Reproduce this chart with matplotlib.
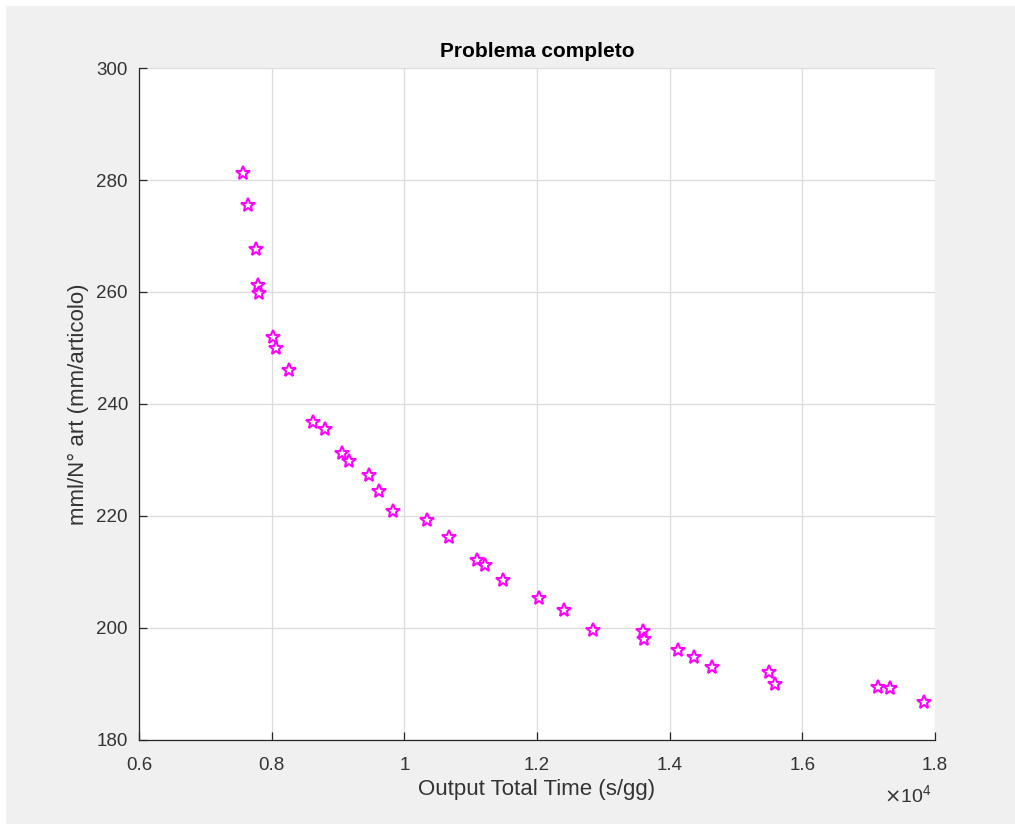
import matplotlib
matplotlib.use("Agg")
import matplotlib.pyplot as plt
from matplotlib.patches import Rectangle
from matplotlib.ticker import FuncFormatter

plt.rcParams['font.family'] = ['Liberation Sans', 'DejaVu Sans']

# dati
tempo = [7563, 7649, 7765, 7799, 7815, 8025, 8065, 8266,
         8628, 8804, 9056, 9166, 9472, 9623, 9825, 10338, 10679,
         11101, 11222, 11493, 12032, 12413, 12842, 13596, 13616,
         14133, 14360, 14636, 15505, 15591, 17136, 17315, 17828]
mml_art = [281.3, 275.5, 267.7, 261.25, 259.9, 252.0, 250.0, 246.1,
           236.7, 235.5, 231.2, 229.8, 227.4, 224.5, 220.95, 219.2, 216.3,
           212.1, 211.2, 208.6, 205.4, 203.3, 199.6, 199.5, 198.0,
           196.1, 194.9, 193.0, 192.1, 189.95, 189.5, 189.2, 186.8]

x_ticks = [6000, 8000, 10000, 12000, 14000, 16000, 18000]
y_ticks = [180, 200, 220, 240, 260, 280, 300]

W, H = 1015, 824
fig = plt.figure(figsize=(W / 100, H / 100), dpi=100, facecolor='white')
# sfondo grigio stile MATLAB
fig.patches.append(Rectangle((6 / W, 0), 1 - 6 / W, 1 - 6 / H, transform=fig.transFigure,
                             facecolor='#f0f0f0', edgecolor='none', zorder=-1))

ax = fig.add_axes([139 / W, 1 - 740 / H, (935 - 139) / W, (740 - 68) / H])
ax.set_facecolor('white')

ax.plot(tempo, mml_art, linestyle='none', marker='*', markersize=10,
        markerfacecolor='none', markeredgecolor='#ff00ff', markeredgewidth=1.5,
        clip_on=False, zorder=3)

ax.set_xlim(6000, 18000)
ax.set_ylim(180, 300)
ax.set_xticks(x_ticks)
ax.set_yticks(y_ticks)
ax.xaxis.set_major_formatter(FuncFormatter(lambda v, p: f"{v / 1e4:g}"))

ax.grid(True, color='#dcdcdc', linewidth=0.9)
ax.set_axisbelow(True)

for s in ['top', 'right']:
    ax.spines[s].set_visible(False)
for s in ['left', 'bottom']:
    ax.spines[s].set_color('#262626')
    ax.spines[s].set_linewidth(0.9)

ax.tick_params(direction='in', length=6, width=0.9, color='#262626',
               labelcolor='#333333', labelsize=13.5)
ax.tick_params(axis='x', pad=12)
ax.tick_params(axis='y', pad=8)

ax.set_title('Problema completo', fontsize=15, fontweight='bold', color='black', pad=8)
ax.set_xlabel('Output Total Time (s/gg)', fontsize=16, color='#333333', labelpad=4)
ax.set_ylabel('mml/N° art (mm/articolo)', fontsize=16, color='#333333', labelpad=5)

fig.text(908 / W, 1 - 795 / H, r'$\times\mathregular{10^4}$', fontsize=14,
         color='#333333', ha='center', va='center')

fig.savefig('out.png', dpi=100, facecolor=fig.get_facecolor())
